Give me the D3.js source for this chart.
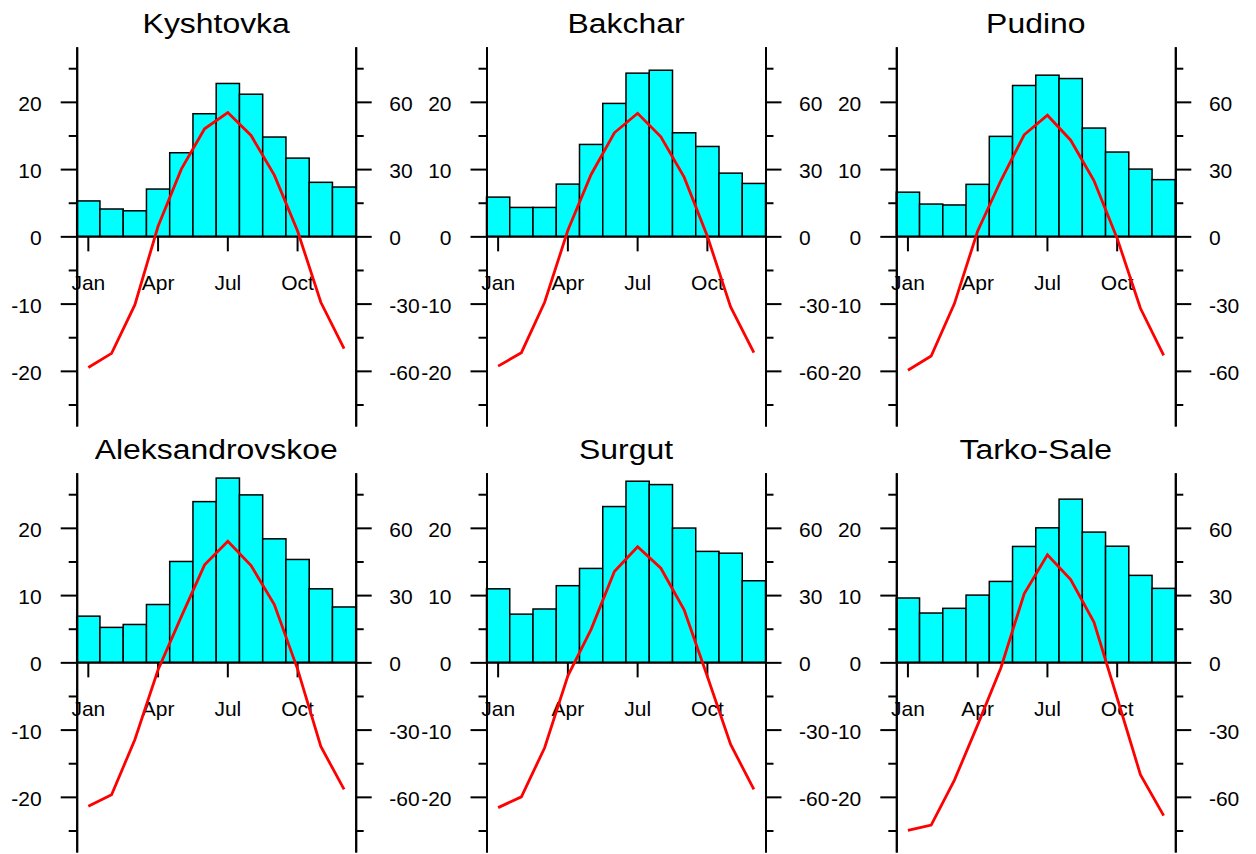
<!DOCTYPE html>
<html>
<head>
<meta charset="utf-8">
<script src="https://cdn.jsdelivr.net/npm/d3@7"></script>
<style>
  html, body { margin: 0; padding: 0; background: #fff; }
  svg { display: block; font-family: "Liberation Sans", Arial, Helvetica, sans-serif; }
</style>
</head>
<body>
<svg id="chart" width="1256" height="854"></svg>
<script>
// Monthly climate normals: mean air temperature (°C, left axis, red line)
// and precipitation (mm, right axis, cyan bars) for six West Siberian stations.
const months = ["Jan","Feb","Mar","Apr","May","Jun","Jul","Aug","Sep","Oct","Nov","Dec"];
const monthTicks = ["Jan","Apr","Jul","Oct"];
const stations = ["Kyshtovka","Bakchar","Pudino","Aleksandrovskoe","Surgut","Tarko-Sale"];

const tempKyshtovka = [-19.5, -17.4, -10.2, 1.5, 10.0, 16.0, 18.4, 15.0, 9.1, 0.8, -9.8, -16.7];
const precKyshtovka = [15.8, 12.2, 11.4, 21.1, 37.3, 54.7, 68.2, 63.4, 44.3, 34.9, 24.1, 22.0];

const tempBakchar = [-19.3, -17.3, -9.8, 0.9, 9.2, 15.4, 18.3, 14.8, 8.8, 0.0, -10.5, -17.3];
const precBakchar = [17.5, 12.9, 12.9, 23.3, 41.0, 59.3, 72.8, 74.1, 46.2, 40.1, 28.2, 23.6];

const tempPudino = [-19.9, -17.8, -10.0, 0.8, 8.3, 15.1, 18.0, 14.3, 8.3, -0.3, -10.7, -17.7];
const precPudino = [19.7, 14.4, 14.0, 23.2, 44.6, 67.3, 71.9, 70.4, 48.3, 37.6, 30.0, 25.3];

const tempAleksandrovskoe = [-21.4, -19.7, -11.5, -1.1, 6.8, 14.5, 18.0, 14.4, 8.6, -1.0, -12.5, -18.9];
const precAleksandrovskoe = [20.6, 15.6, 16.9, 25.8, 45.0, 71.7, 82.2, 74.7, 55.1, 45.9, 32.8, 24.7];

const tempSurgut = [-21.6, -20.0, -12.7, -2.0, 4.9, 13.5, 17.2, 14.0, 7.8, -2.1, -12.2, -18.9];
const precSurgut = [32.8, 21.5, 23.8, 34.2, 41.9, 69.5, 80.8, 79.3, 59.9, 49.5, 48.7, 36.4];

const tempTarkoSale = [-25.0, -24.2, -17.5, -9.3, -0.8, 10.2, 16.0, 12.3, 6.0, -5.3, -16.7, -22.8];
const precTarkoSale = [28.7, 22.0, 24.1, 30.0, 36.1, 51.7, 60.0, 72.8, 58.1, 51.8, 38.8, 33.0];

const tempMajorTicks = [-20, -10, 0, 10, 20];
const tempMinorTicks = [-25, -15, -5, 5, 15, 25];
const precMajorTicks = [-60, -30, 0, 30, 60];
const precMinorTicks = [-75, -45, -15, 15, 45, 75];

const temps = [tempKyshtovka, tempBakchar, tempPudino, tempAleksandrovskoe, tempSurgut, tempTarkoSale];
const precs = [precKyshtovka, precBakchar, precPudino, precAleksandrovskoe, precSurgut, precTarkoSale];

// Panel layout
const plotW = 279, plotH = 379.3;
const left0 = 76.7, colStep = 409.8;
const top0 = 46.7, rowStep = 426;
const tempExtent = 28.2;          // temperature half-range
const precExtent = tempExtent * 3; // precipitation axis is 3x the temperature axis

const svg = d3.select("#chart");

const x = d3.scaleBand().domain(months).range([0, plotW]).padding(0);
const yT = d3.scaleLinear().domain([-tempExtent, tempExtent]).range([plotH, 0]);
const yP = d3.scaleLinear().domain([-precExtent, precExtent]).range([plotH, 0]);

// plain hyphen-minus for negative tick labels
const plainNumber = d => String(d);

function styleAxis(g) {
  g.attr("font-size", 21).attr("font-family", null);
  g.selectAll("line").attr("stroke-width", 2);
  g.selectAll("path").attr("stroke-width", 2);
}

stations.forEach((name, i) => {
  const col = i % 3, row = Math.floor(i / 3);
  const g = svg.append("g")
    .attr("transform", `translate(${left0 + col * colStep},${top0 + row * rowStep})`);
  const temp = temps[i], prec = precs[i];

  // Precipitation bars
  g.append("g").selectAll("rect")
    .data(months)
    .join("rect")
    .attr("x", m => x(m))
    .attr("width", x.bandwidth())
    .attr("y", (m, k) => yP(prec[k]))
    .attr("height", (m, k) => yP(0) - yP(prec[k]))
    .attr("fill", "#00ffff")
    .attr("stroke", "#000")
    .attr("stroke-width", 1.5);

  // Left temperature axis: minor then major ticks
  g.append("g")
    .call(d3.axisLeft(yT).tickValues(tempMinorTicks).tickSize(8).tickSizeOuter(0).tickFormat(""))
    .call(styleAxis);
  g.append("g")
    .call(d3.axisLeft(yT).tickValues(tempMajorTicks).tickSize(16).tickPadding(19)
      .tickSizeOuter(0).tickFormat(plainNumber))
    .call(styleAxis)
    .call(a => a.selectAll("text").attr("dy", "0.41em").attr("fill", "#000"));

  // Right precipitation axis
  g.append("g").attr("transform", `translate(${plotW},0)`)
    .call(d3.axisRight(yP).tickValues(precMinorTicks).tickSize(8).tickSizeOuter(0).tickFormat(""))
    .call(styleAxis);
  g.append("g").attr("transform", `translate(${plotW},0)`)
    .call(d3.axisRight(yP).tickValues(precMajorTicks).tickSize(16).tickPadding(17.6)
      .tickSizeOuter(0).tickFormat(plainNumber))
    .call(styleAxis)
    .call(a => a.selectAll("text").attr("dy", "0.41em").attr("fill", "#000"));

  // Month axis along the zero line
  g.append("g").attr("transform", `translate(0,${yT(0)})`)
    .call(d3.axisBottom(x).tickValues(monthTicks).tickSize(15).tickPadding(24).tickSizeOuter(0))
    .call(styleAxis)
    .call(a => a.selectAll("text").attr("fill", "#000"));

  // Temperature line
  g.append("path")
    .datum(temp)
    .attr("fill", "none")
    .attr("stroke", "#ff0000")
    .attr("stroke-width", 2.8)
    .attr("d", d3.line()
      .x((t, k) => x(months[k]) + x.bandwidth() / 2)
      .y(t => yT(t)));

  // Station title
  g.append("text")
    .attr("transform", `translate(${plotW / 2},${-13.7}) scale(1.14,1)`)
    .attr("text-anchor", "middle")
    .attr("font-size", 28)
    .attr("fill", "#000")
    .text(name);
});
</script>
</body>
</html>
